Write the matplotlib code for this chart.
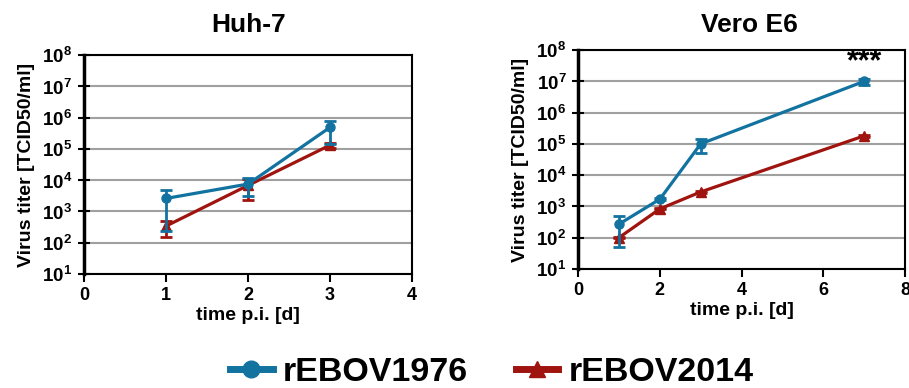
import numpy as np
import matplotlib.pyplot as plt
from matplotlib.lines import Line2D

plt.rcParams['font.family'] = 'Liberation Sans'
plt.rcParams['font.weight'] = 'bold'
plt.rcParams['axes.labelweight'] = 'bold'
plt.rcParams['mathtext.fontset'] = 'custom'
plt.rcParams['mathtext.rm'] = 'Liberation Sans:bold'
plt.rcParams['mathtext.bf'] = 'Liberation Sans:bold'

blue = '#1272a0'
red = '#a0140f'

# Huh-7
huh_days = [1, 2, 3]
huh_1976 = [2600, 7500, 490000]
huh_1976_lo = [235, 3100, 148000]
huh_1976_hi = [4800, 11500, 780000]
huh_2014 = [340, 6800, 132000]
huh_2014_lo = [155, 2300, 105000]
huh_2014_hi = [480, 10700, 150000]

# Vero E6
vero_days = [1, 2, 3, 7]
vero_1976 = [270, 1700, 100000, 1.0e7]
vero_1976_lo = [52, 1600, 50000, 7.6e6]
vero_1976_hi = [490, 1800, 140000, 1.2e7]
vero_2014 = [100, 830, 2900, 180000]
vero_2014_lo = [95, 800, 2700, 170000]
vero_2014_hi = [105, 860, 3100, 190000]

ytick_vals = [1e1, 1e2, 1e3, 1e4, 1e5, 1e6, 1e7, 1e8]
ytick_labels = [r'$10^{%d}$' % int(np.log10(v)) for v in ytick_vals]


def draw(ax, days, y1, lo1, hi1, y2, lo2, hi2, xmax, xstep):
    e1 = [np.array(y1) - np.array(lo1), np.array(hi1) - np.array(y1)]
    e2 = [np.array(y2) - np.array(lo2), np.array(hi2) - np.array(y2)]
    ax.errorbar(days, y1, yerr=e1, color=blue, marker='o', ms=6.5, lw=2.3,
                capsize=4.5, capthick=2, elinewidth=2, zorder=4)
    ax.errorbar(days, y2, yerr=e2, color=red, marker='^', ms=6.5, lw=2.3,
                capsize=4.5, capthick=2, elinewidth=2, zorder=3)
    ax.set_yscale('log')
    ax.set_ylim(1e1, 1e8)
    ax.set_xlim(0, xmax)
    ax.set_yticks(ytick_vals)
    ax.set_yticklabels(ytick_labels, fontsize=13.5)
    ax.set_xticks(np.arange(0, xmax + 1, xstep))
    ax.tick_params(axis='x', labelsize=13, direction='out', length=6, width=1.5)
    ax.tick_params(axis='y', which='major', direction='inout', length=9, width=1.5, pad=4)
    ax.tick_params(axis='y', which='minor', direction='out', length=4, width=1)
    ax.grid(axis='y', which='major', color='#a0a0a0', lw=1.5)
    ax.set_axisbelow(True)
    for s in ax.spines.values():
        s.set_linewidth(1.5)
    ax.spines['left'].set_linewidth(2.5)
    ax.set_xlabel('time p.i. [d]', fontsize=14, labelpad=2)
    ax.set_ylabel('Virus titer [TCID50/ml]', fontsize=14, labelpad=5)


fig = plt.figure(figsize=(9.09, 3.88), dpi=100)
ax1 = fig.add_axes([0.0924, 0.294, 0.361, 0.564])
ax2 = fig.add_axes([0.636, 0.307, 0.3597, 0.564])

draw(ax1, huh_days, huh_1976, huh_1976_lo, huh_1976_hi,
     huh_2014, huh_2014_lo, huh_2014_hi, 4, 1)
draw(ax2, vero_days, vero_1976, vero_1976_lo, vero_1976_hi,
     vero_2014, vero_2014_lo, vero_2014_hi, 8, 2)
fig.text(0.273, 0.935, 'Huh-7', ha='center', va='center', fontsize=19, fontweight='bold')
fig.text(0.825, 0.935, 'Vero E6', ha='center', va='center', fontsize=19, fontweight='bold')
ax2.text(7, 1.35e7, '***', ha='center', va='bottom', fontsize=22, fontweight='bold')

handles = [Line2D([], [], color=blue, marker='o', ms=12, lw=5),
           Line2D([], [], color=red, marker='^', ms=12, lw=5)]
fig.legend(handles, ['rEBOV1976', 'rEBOV2014'], loc='center',
           bbox_to_anchor=(0.541, 0.039), ncol=2, frameon=False,
           handlelength=1.25, columnspacing=1.4, handletextpad=0.3,
           borderpad=0, prop={'weight': 'bold', 'size': 24.5})

fig.savefig('out.png', dpi=100)
